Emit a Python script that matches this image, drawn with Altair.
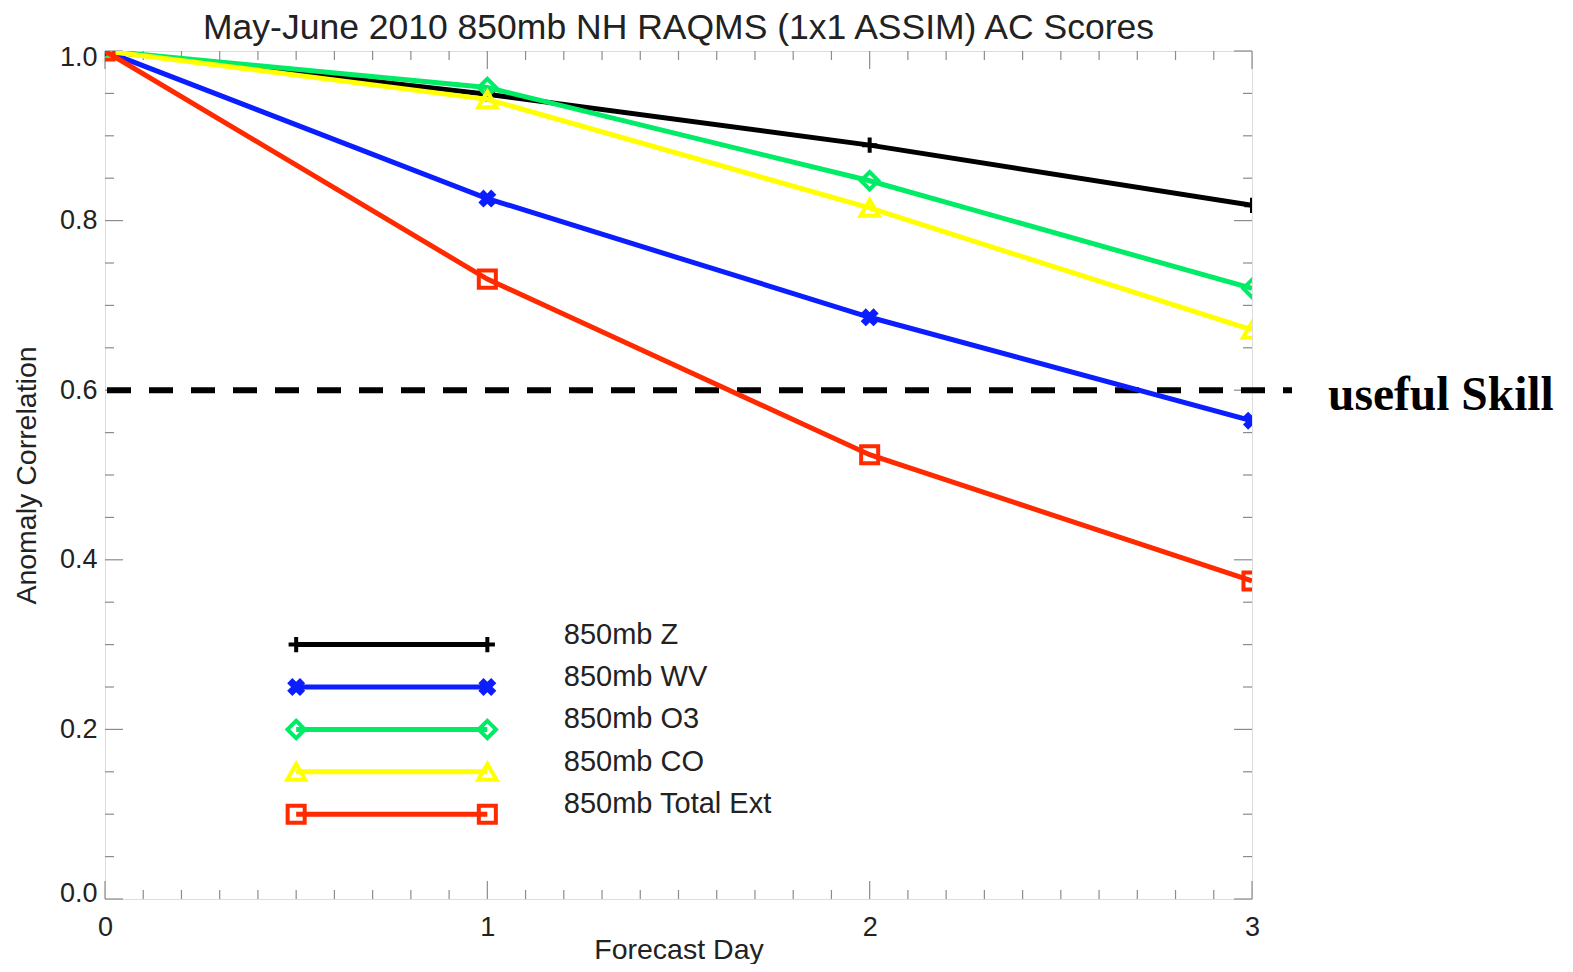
import altair as alt
import pandas as pd
import numpy as np

# ---------------- data ----------------
days = [0, 1, 2, 3]
series_names = ["850mb Z", "850mb WV", "850mb O3", "850mb CO", "850mb Total Ext"]
z_vals = [1.0, 0.949, 0.889, 0.818]
wv_vals = [1.0, 0.826, 0.686, 0.564]
o3_vals = [1.0, 0.957, 0.847, 0.720]
co_vals = [1.0, 0.943, 0.815, 0.671]
ext_vals = [1.0, 0.731, 0.524, 0.375]
series_values = [z_vals, wv_vals, o3_vals, co_vals, ext_vals]
useful_skill_level = 0.6
useful_skill_label = "useful Skill"
x_tick_labels = [0, 1, 2, 3]
y_tick_labels = [0.0, 0.2, 0.4, 0.6, 0.8, 1.0]
title_text = "May-June 2010 850mb NH RAQMS (1x1 ASSIM) AC Scores"

# ---------------- styles ----------------
colors = ["#000000", "#0a1eff", "#00ec66", "#ffff00", "#ff2a00"]
shapes = ["M-1,0L1,0M0,-1L0,1", "cross", "diamond", "triangle-up", "square"]
filled = [False, True, False, False, False]
sizes = [230, 330, 300, 330, 290]
angles = [0, 45, 0, 0, 0]

W, H = 1147, 848
FONT = "Liberation Sans"
TXT = "#222222"
FRAME = "#8c8c8c"
MAJ, MIN = 18, 9

# legend layout (data coordinates)
leg_x0, leg_x1, leg_text_x = 0.5, 1.0, 1.2
leg_top, leg_step = 0.30, 0.05

xs = alt.Scale(domain=[0, 3], nice=False, zero=False)
ys = alt.Scale(domain=[0, 1], nice=False, zero=False)

x_axis = alt.Axis(values=x_tick_labels, format="d", title="Forecast Day", ticks=False,
                  domain=False, grid=False, labelFontSize=27, labelPadding=15,
                  titleFontSize=28.5, titlePadding=-5, titleFontWeight="normal",
                  labelFont=FONT, titleFont=FONT, labelColor=TXT, titleColor=TXT,
                  labelFlush=False, labelOverlap=False)
y_axis = alt.Axis(values=y_tick_labels, format=".1f", title="Anomaly Correlation", ticks=False,
                  domain=False, grid=False, labelFontSize=27, labelPadding=8,
                  labelOffset=alt.ExprRef(expr="datum.value >= 1 ? 6 : (datum.value <= 0 ? -6 : 0)"),
                  titleFontSize=28.5, titlePadding=18, titleFontWeight="normal",
                  labelFont=FONT, titleFont=FONT, labelColor=TXT, titleColor=TXT,
                  labelOverlap=False)


def X(field):
    return alt.X(field, type="quantitative", scale=xs, axis=x_axis)


def Y(field):
    return alt.Y(field, type="quantitative", scale=ys, axis=y_axis)


layers = []

# ---------------- tick marks (inward) ----------------
y_major = pd.DataFrame({"v": y_tick_labels})
y_minor = pd.DataFrame({"v": [v for v in np.round(np.arange(0, 1.0001, 0.05), 2)
                              if round(v / 0.2, 6) != round(v / 0.2)]})
x_major = pd.DataFrame({"v": x_tick_labels})
x_minor = pd.DataFrame({"v": [v for v in np.round(np.arange(0, 3.0001, 0.1), 1)
                              if abs(v - round(v)) > 1e-6]})

for df, L in [(y_major, MAJ), (y_minor, MIN)]:
    layers.append(alt.Chart(df).mark_rule(color=FRAME, strokeWidth=1.2).encode(
        y=Y("v"), x=alt.value(0), x2=alt.value(L)))
    layers.append(alt.Chart(df).mark_rule(color=FRAME, strokeWidth=1.2).encode(
        y=Y("v"), x=alt.value(W - L), x2=alt.value(W)))
for df, L in [(x_major, MAJ), (x_minor, MIN)]:
    layers.append(alt.Chart(df).mark_rule(color=FRAME, strokeWidth=1.2).encode(
        x=X("v"), y=alt.value(H - L), y2=alt.value(H)))
    layers.append(alt.Chart(df).mark_rule(color=FRAME, strokeWidth=1.2).encode(
        x=X("v"), y=alt.value(0), y2=alt.value(L)))

# ---------------- useful skill line ----------------
skill_df = pd.DataFrame({"v": [useful_skill_level], "label": [useful_skill_label]})
layers.append(alt.Chart(skill_df).mark_rule(color="black", strokeWidth=6,
                                            strokeDash=[24, 18], clip=False).encode(
    y=Y("v"), x=alt.value(2), x2=alt.value(W + 40)))
layers.append(alt.Chart(skill_df).mark_text(font="Liberation Serif", fontWeight="bold",
                                            fontSize=47.5, align="left", baseline="middle",
                                            dy=6, color="black", clip=False).encode(
    y=Y("v"), x=alt.value(W + 76), text="label:N"))

# ---------------- series ----------------
for i, name in enumerate(series_names):
    ly = leg_top - i * leg_step
    df = pd.DataFrame({
        "x": list(days) + [leg_x0, leg_x1],
        "y": list(series_values[i]) + [ly, ly],
        "grp": ["data"] * len(days) + ["legend"] * 2,
    })
    base = alt.Chart(df)
    layers.append(base.mark_line(color=colors[i], strokeWidth=5, clip=True).encode(
        x=X("x"), y=Y("y"), detail="grp:N"))
    layers.append(base.mark_point(shape=shapes[i], filled=filled[i], size=sizes[i],
                                  angle=angles[i], color=colors[i], strokeWidth=4,
                                  opacity=1, clip=True).encode(x=X("x"), y=Y("y")))
    tdf = pd.DataFrame({"x": [leg_text_x], "y": [ly], "label": [name]})
    layers.append(alt.Chart(tdf).mark_text(font=FONT, fontSize=29, align="left",
                                           baseline="middle", dy=-10, color=TXT).encode(
        x=X("x"), y=Y("y"), text="label:N"))

chart = alt.layer(*layers).properties(
    width=W, height=H,
    title=alt.Title(title_text, fontSize=35.5, font=FONT, fontWeight="normal",
                    color=TXT, offset=-3, anchor="middle"),
    autosize=alt.AutoSizeParams(type="none"),
    padding={"left": 97, "top": 43, "right": 310, "bottom": 65},
).configure_view(stroke=FRAME, strokeWidth=1.5).configure(background="white")

chart.save("out.html", embed_options={"renderer": "svg", "actions": False})
